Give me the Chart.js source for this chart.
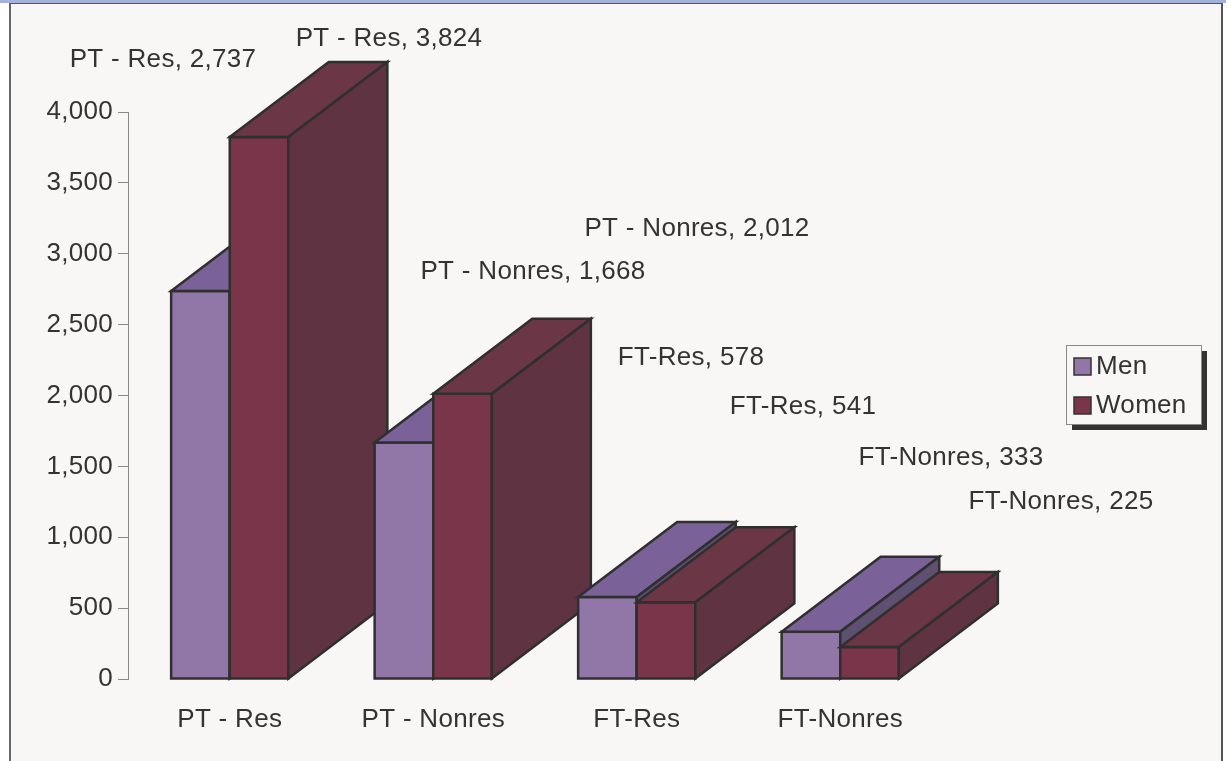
<!DOCTYPE html>
<html lang="en">
<head>
  <meta charset="UTF-8">
  <title>Men and Women by status</title>
  <script src="https://cdn.jsdelivr.net/npm/chart.js"></script>
  <style>
    html, body { margin: 0; padding: 0; background: #fff; width: 1231px; height: 761px; overflow: hidden; }
    .topband { position: absolute; left: 0; top: 0; width: 1226px; height: 3px; background: #a3b2dc; }
    .frame {
      position: absolute; left: 9px; top: 3px; width: 1210px; height: 800px;
      background: #f8f7f5; border-top: 1px solid #555;
      border-left: 2px solid #666; border-right: 2px solid #555;
    }
    canvas { position: absolute; left: 0; top: 0; }
  </style>
</head>
<body>
  <div class="topband"></div>
  <div class="frame"></div>
  <canvas id="chart" width="1231" height="761"></canvas>

  <script>
    // data
    const categories = ['PT - Res', 'PT - Nonres', 'FT-Res', 'FT-Nonres'];
    const men = [2737, 1668, 578, 333];
    const women = [3824, 2012, 541, 225];
    const seriesNames = ['Men', 'Women'];

    // where Excel put each data label (centre, px) - men row, women row
    const labelPos = [
      [[163, 60], [533, 272], [691, 358], [951, 458]],
      [[389, 39], [697, 229], [803, 407], [1061, 502]]
    ];

    const FONT = '"Liberation Sans", Arial, sans-serif';
    const FSIZE = 26;
    const TEXT = '#333';
    const DEPTH_X = 99, DEPTH_Y = 75;

    const faces = [
      { front: '#9177a8', top: '#7a6298', side: '#5e5070' },
      { front: '#7b354b', top: '#6b3646', side: '#603343' }
    ];

    const fmt = v => v.toLocaleString('en-US');

    function poly(ctx, pts, fill) {
      ctx.beginPath();
      ctx.moveTo(pts[0][0], pts[0][1]);
      for (let k = 1; k < pts.length; k++) ctx.lineTo(pts[k][0], pts[k][1]);
      ctx.closePath();
      ctx.fillStyle = fill;
      ctx.fill();
      ctx.stroke();
    }

    // text in the picture is a touch wider than plain Arial
    const spacing = {
      id: 'spacing',
      beforeDraw(chart) { chart.ctx.letterSpacing = '0.3px'; }
    };

    // fake 3d columns, drawn category by category so the front ones cover the back
    const bars3d = {
      id: 'bars3d',
      afterDatasetsDraw(chart) {
        const ctx = chart.ctx;
        ctx.save();
        ctx.lineWidth = 2.5;
        ctx.strokeStyle = '#2f2f2f';
        ctx.lineJoin = 'miter';
        categories.forEach((c, i) => {
          chart.data.datasets.forEach((ds, d) => {
            const bar = chart.getDatasetMeta(d).data[i];
            const l = bar.x - bar.width / 2, r = bar.x + bar.width / 2;
            const t = bar.y, b = bar.base;
            const f = faces[d];
            poly(ctx, [[l, t], [r, t], [r, b], [l, b]], f.front);
            poly(ctx, [[l, t], [l + DEPTH_X, t - DEPTH_Y], [r + DEPTH_X, t - DEPTH_Y], [r, t]], f.top);
            poly(ctx, [[r, t], [r + DEPTH_X, t - DEPTH_Y], [r + DEPTH_X, b - DEPTH_Y], [r, b]], f.side);
          });
        });
        ctx.restore();
      },
      afterDraw(chart) {
        const ctx = chart.ctx;
        ctx.save();
        ctx.letterSpacing = '0.3px';
        ctx.font = FSIZE + 'px ' + FONT;
        ctx.fillStyle = TEXT;
        ctx.textAlign = 'center';
        ctx.textBaseline = 'middle';
        chart.data.datasets.forEach((ds, d) => {
          ds.data.forEach((v, i) => {
            const p = labelPos[d][i];
            ctx.fillText(categories[i] + ', ' + fmt(v), p[0], p[1]);
          });
        });

        // legend box with its shadow
        ctx.fillStyle = '#333';
        ctx.fillRect(1072, 351, 135, 79);
        ctx.fillStyle = '#f8f7f5';
        ctx.fillRect(1066, 345, 135, 79);
        ctx.strokeStyle = '#888';
        ctx.lineWidth = 1;
        ctx.strokeRect(1066.5, 345.5, 135, 79);
        ctx.textAlign = 'left';
        chart.data.datasets.forEach((ds, d) => {
          const y = 358 + d * 39;
          ctx.fillStyle = ds.backgroundColor;
          ctx.fillRect(1074, y, 17, 17);
          ctx.strokeStyle = '#333';
          ctx.lineWidth = 1.5;
          ctx.strokeRect(1074, y, 17, 17);
          ctx.fillStyle = TEXT;
          ctx.fillText(ds.label, 1096, y + 9);
        });
        ctx.restore();
      }
    };

    const ctx = document.getElementById('chart').getContext('2d');
    new Chart(ctx, {
      type: 'bar',
      data: {
        labels: categories,
        datasets: [
          { label: seriesNames[0], data: men, backgroundColor: faces[0].front, borderWidth: 0 },
          { label: seriesNames[1], data: women, backgroundColor: faces[1].front, borderWidth: 0 }
        ]
      },
      options: {
        responsive: false,
        devicePixelRatio: 1,
        animation: false,
        categoryPercentage: 0.576,
        barPercentage: 1,
        layout: { padding: { top: 112, right: 289, bottom: 0, left: 0 } },
        plugins: {
          legend: { display: false },
          tooltip: { enabled: false }
        },
        scales: {
          x: {
            grid: { display: false },
            border: { display: false },
            ticks: { padding: 17, color: TEXT, font: { family: FONT, size: FSIZE } },
            afterFit(s) { s.height = 82; }
          },
          y: {
            min: 0,
            max: 4000,
            ticks: {
              stepSize: 500, padding: 5, color: TEXT,
              font: { family: FONT, size: FSIZE },
              callback: v => fmt(v)
            },
            grid: { drawOnChartArea: false, tickLength: 10, color: '#888', lineWidth: 1 },
            border: { color: '#888', width: 1 },
            afterFit(s) { s.width = 128; }
          }
        }
      },
      plugins: [spacing, bars3d]
    });
  </script>
</body>
</html>
